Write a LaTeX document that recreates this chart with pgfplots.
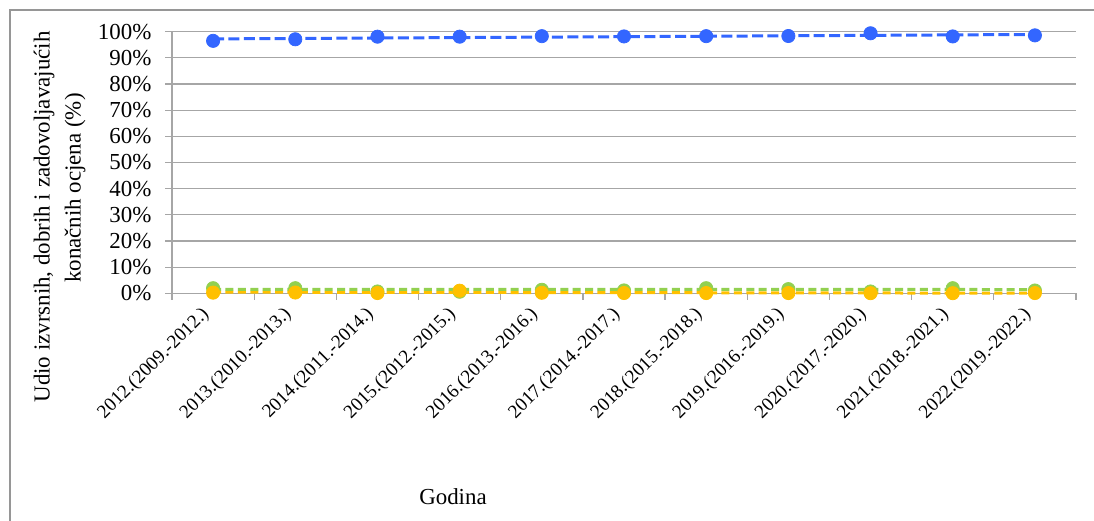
\documentclass[border=0pt]{standalone}
\usepackage{fontspec}
\setmainfont{Liberation Serif}
\usepackage{pgfplots}
\pgfplotsset{compat=1.18}
\definecolor{cblue}{RGB}{51,102,255}
\definecolor{cgreen}{RGB}{146,208,80}
\definecolor{corange}{RGB}{255,192,0}
\definecolor{cgrid}{RGB}{166,166,166}
\definecolor{cframe}{RGB}{150,150,150}
\newcommand{\ff}{\fontsize{11.5}{13.8}\selectfont}
\newcommand{\fx}{\fontsize{9.6}{11.5}\selectfont}
\begin{document}
\begin{tikzpicture}
\useasboundingbox (-86bp,-113.85bp) rectangle (461bp,146.65bp);
\draw[cframe, line width=0.6bp] (-81bp,-120bp) -- (-81bp,141.65bp) -- (470bp,141.65bp);
\begin{axis}[
  at={(0,0)}, anchor=south west,
  scale only axis, width=452bp, height=130.8bp,
  xmin=-0.5, xmax=10.5, ymin=0, ymax=100,
  axis x line*=bottom, axis y line*=left,
  axis line style={cgrid, line width=0.6bp},
  xtick={0,...,10},
  xticklabels={2012.(2009.-2012.),2013.(2010.-2013.),2014.(2011.-2014.),2015.(2012.-2015.),2016.(2013.-2016.),2017.(2014.-2017.),2018.(2015.-2018.),2019.(2016.-2019.),2020.(2017.-2020.),2021.(2018.-2021.),2022.(2019.-2022.)},
  major x tick style={draw=none},
  minor xtick={-0.5,0.5,...,10.5},
  minor tick length=3.3bp, major tick length=3.3bp,
  tick align=outside,
  tick style={cgrid, line width=0.6bp},
  ytick={0,10,...,100},
  yticklabel={\pgfmathprintnumber{\tick}\%},
  /pgf/number format/assume math mode=true,
  ymajorgrids, grid style={cgrid, line width=0.6bp},
  tick label style={font=\ff, text=black},
  xticklabel style={font=\fx, xshift=-6.5bp, yshift=-1bp, rotate=45, anchor=north east, inner sep=1bp},
  yticklabel style={xshift=-3.5bp},
  clip=false,
]
\addplot[only marks, mark=*, mark size=3.3bp, color=cblue] coordinates {
(0,96.5) (1,97.1) (2,98.1) (3,98.1) (4,98.3) (5,98.2) (6,98.3) (7,98.35) (8,99.4) (9,98.2) (10,98.6)};
\addplot[only marks, mark=*, mark size=3.3bp, color=cgreen] coordinates {
(0,1.95) (1,1.95) (2,0.7) (3,0.6) (4,1.34) (5,1.1) (6,1.95) (7,1.6) (8,0.7) (9,1.95) (10,1.07)};
\addplot[only marks, mark=*, mark size=3.3bp, color=corange] coordinates {
(0,0.25) (1,0.3) (2,0.1) (3,1.0) (4,0.2) (5,0.1) (6,0.1) (7,0.1) (8,0.05) (9,0.05) (10,0.1)};
\addplot[no marks, cblue, line width=1.5bp, dash pattern=on 5.5bp off 2.2bp] coordinates {(0,97.25) (10,98.95)};
\addplot[no marks, corange, line width=1.5bp, dash pattern=on 4bp off 2.2bp] coordinates {(0,0.45) (10,0.05)};
\addplot[no marks, cgreen, line width=1.5bp, dash pattern=on 4bp off 2.2bp] coordinates {(0,1.5) (10,1.45)};
\end{axis}
\node[rotate=90, font=\ff] at (-64bp,38.2bp) {Udio izvrsnih, dobrih i zadovoljavajućih};
\node[rotate=90, font=\ff] at (-48.5bp,52.6bp) {konačnih ocjena (\%)};
\node[font=\ff] at (140.5bp,-101.85bp) {Godina};
\end{tikzpicture}
\end{document}
